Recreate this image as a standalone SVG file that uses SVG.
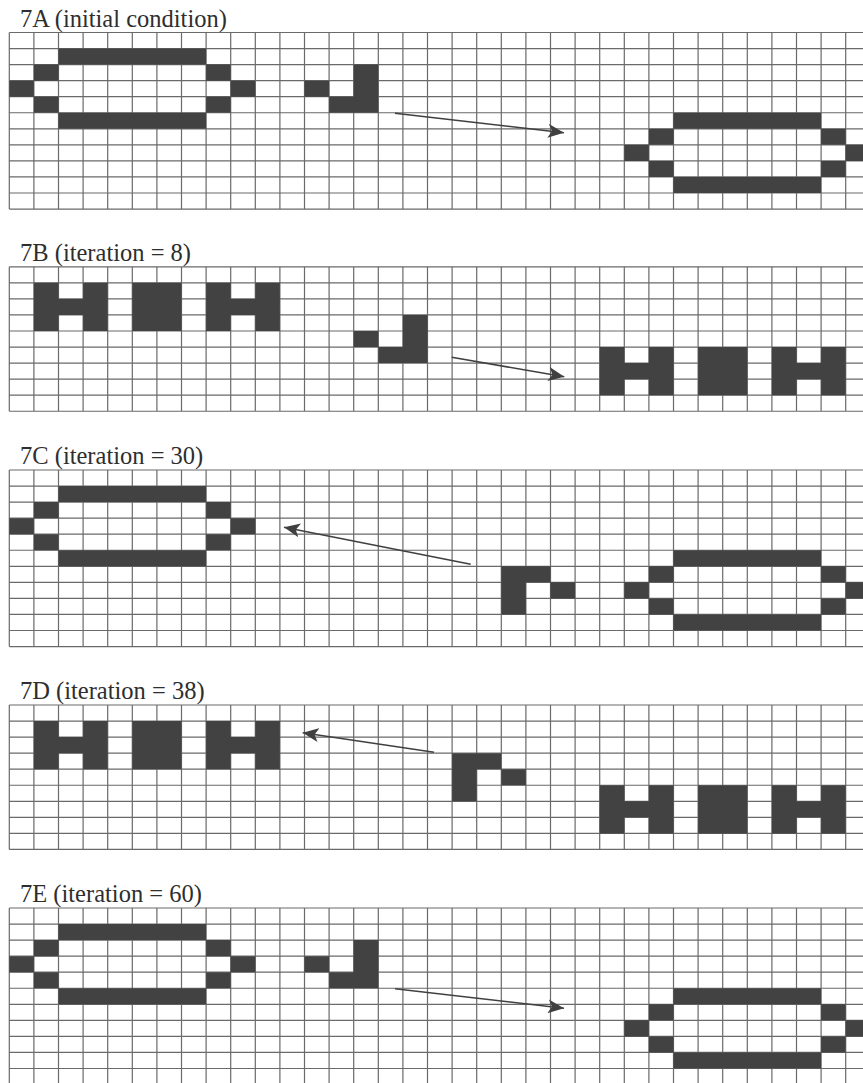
<svg xmlns="http://www.w3.org/2000/svg" xmlns:xlink="http://www.w3.org/1999/xlink" width="863" height="1083" viewBox="0 0 863 1083">
<style>
.lbl{font-family:"Liberation Serif","Times New Roman",serif;font-size:24.5px;fill:#2e2e2e}
.grid{fill:none;stroke:#6a6a6a;stroke-width:1.2}
.cell{fill:#424242}
.arr{fill:none;stroke:#404040;stroke-width:1.6}
</style>
<defs>
<marker id="ah" markerUnits="userSpaceOnUse" markerWidth="17" markerHeight="14" refX="16" refY="7" orient="auto" viewBox="0 0 17 14"><path d="M0 0L16 7L0 14L4 7z" fill="#404040"/></marker>
<path id="grid11" class="grid" d="M9.3 0v176.55m24.6-176.55v176.55m24.6-176.55v176.55m24.6-176.55v176.55m24.6-176.55v176.55m24.6-176.55v176.55m24.6-176.55v176.55m24.6-176.55v176.55m24.6-176.55v176.55m24.6-176.55v176.55m24.6-176.55v176.55m24.6-176.55v176.55m24.6-176.55v176.55m24.6-176.55v176.55m24.6-176.55v176.55m24.6-176.55v176.55m24.6-176.55v176.55m24.6-176.55v176.55m24.6-176.55v176.55m24.6-176.55v176.55m24.6-176.55v176.55m24.6-176.55v176.55m24.6-176.55v176.55m24.6-176.55v176.55m24.6-176.55v176.55m24.6-176.55v176.55m24.6-176.55v176.55m24.6-176.55v176.55m24.6-176.55v176.55m24.6-176.55v176.55m24.6-176.55v176.55m24.6-176.55v176.55m24.6-176.55v176.55m24.6-176.55v176.55m24.6-176.55v176.55M9.3 0H863m-853.7 16.05H863m-853.7 16.05H863m-853.7 16.05H863m-853.7 16.05H863m-853.7 16.05H863m-853.7 16.05H863m-853.7 16.05H863m-853.7 16.05H863m-853.7 16.05H863m-853.7 16.05H863m-853.7 16.05H863"/>
<path id="grid9" class="grid" d="M9.3 0v144.45m24.6-144.45v144.45m24.6-144.45v144.45m24.6-144.45v144.45m24.6-144.45v144.45m24.6-144.45v144.45m24.6-144.45v144.45m24.6-144.45v144.45m24.6-144.45v144.45m24.6-144.45v144.45m24.6-144.45v144.45m24.6-144.45v144.45m24.6-144.45v144.45m24.6-144.45v144.45m24.6-144.45v144.45m24.6-144.45v144.45m24.6-144.45v144.45m24.6-144.45v144.45m24.6-144.45v144.45m24.6-144.45v144.45m24.6-144.45v144.45m24.6-144.45v144.45m24.6-144.45v144.45m24.6-144.45v144.45m24.6-144.45v144.45m24.6-144.45v144.45m24.6-144.45v144.45m24.6-144.45v144.45m24.6-144.45v144.45m24.6-144.45v144.45m24.6-144.45v144.45m24.6-144.45v144.45m24.6-144.45v144.45m24.6-144.45v144.45m24.6-144.45v144.45M9.3 0H863m-853.7 16.05H863m-853.7 16.05H863m-853.7 16.05H863m-853.7 16.05H863m-853.7 16.05H863m-853.7 16.05H863m-853.7 16.05H863m-853.7 16.05H863m-853.7 16.05H863"/>
<path id="osc" class="cell" d="M49.2 0h147.6v16.05H49.2z M24.6 16.05h24.6v16.05H24.6z M196.8 16.05h24.6v16.05h-24.6z M0 32.1h24.6v16.05H0z M221.4 32.1h24.6v16.05h-24.6z M24.6 48.15h24.6v16.05H24.6z M196.8 48.15h24.6v16.05h-24.6z M49.2 64.2h147.6v16.05H49.2z"/>
<path id="hhh" class="cell" d="M0 0h24.6v16.05h24.6v-16.05h24.6v48.15h-24.6v-16.05h-24.6v16.05h-24.6z M98.4 0h49.2v48.15h-49.2z M172.2 0h24.6v16.05h24.6v-16.05h24.6v48.15h-24.6v-16.05h-24.6v16.05h-24.6z"/>
<path id="gliderR" class="cell" d="M0 16.05h24.6v16.05H0z M49.2 0h24.6v48.15H24.6V32.1h24.6z"/>
<path id="gliderL" class="cell" d="M0 0h49.2v16.05H24.6v32.1H0z M49.2 16.05h24.6v16.05H49.2z"/>
</defs>

<g id="panel-7A">
<text class="lbl" x="20" y="26.8">7A (initial condition)</text>
<use xlink:href="#grid11" href="#grid11" x="0" y="32.5"/>
<g id="A-left-oscillator"><use xlink:href="#osc" href="#osc" x="9.3" y="48.55"/></g>
<g id="A-glider"><use xlink:href="#gliderR" href="#gliderR" x="304.5" y="64.6"/></g>
<g id="A-right-oscillator"><use xlink:href="#osc" href="#osc" x="624.3" y="112.75"/></g>
</g>

<g id="panel-7B">
<text class="lbl" x="20" y="261.2">7B (iteration = 8)</text>
<use xlink:href="#grid9" href="#grid9" x="0" y="266.8"/>
<g id="B-left-oscillator"><use xlink:href="#hhh" href="#hhh" x="33.9" y="282.85"/></g>
<g id="B-glider"><use xlink:href="#gliderR" href="#gliderR" x="353.7" y="314.95"/></g>
<g id="B-right-oscillator"><use xlink:href="#hhh" href="#hhh" x="599.7" y="347.05"/></g>
</g>

<g id="panel-7C">
<text class="lbl" x="20" y="464.3">7C (iteration = 30)</text>
<use xlink:href="#grid11" href="#grid11" x="0" y="470"/>
<g id="C-left-oscillator"><use xlink:href="#osc" href="#osc" x="9.3" y="486.05"/></g>
<g id="C-glider"><use xlink:href="#gliderL" href="#gliderL" x="501.3" y="566.3"/></g>
<g id="C-right-oscillator"><use xlink:href="#osc" href="#osc" x="624.3" y="550.25"/></g>
</g>

<g id="panel-7D">
<text class="lbl" x="20" y="699.3">7D (iteration = 38)</text>
<use xlink:href="#grid9" href="#grid9" x="0" y="705"/>
<g id="D-left-oscillator"><use xlink:href="#hhh" href="#hhh" x="33.9" y="721.05"/></g>
<g id="D-glider"><use xlink:href="#gliderL" href="#gliderL" x="452.1" y="753.15"/></g>
<g id="D-right-oscillator"><use xlink:href="#hhh" href="#hhh" x="599.7" y="785.25"/></g>
</g>

<g id="panel-7E">
<text class="lbl" x="20" y="902.3">7E (iteration = 60)</text>
<use xlink:href="#grid11" href="#grid11" x="0" y="908"/>
<g id="E-left-oscillator"><use xlink:href="#osc" href="#osc" x="9.3" y="924.05"/></g>
<g id="E-glider"><use xlink:href="#gliderR" href="#gliderR" x="304.5" y="940.1"/></g>
<g id="E-right-oscillator"><use xlink:href="#osc" href="#osc" x="624.3" y="988.25"/></g>
</g>

<g id="connectors">
<line class="arr" x1="395" y1="113.3" x2="564" y2="132.7" marker-end="url(#ah)"/>
<line class="arr" x1="451.7" y1="357.3" x2="564.3" y2="376.7" marker-end="url(#ah)"/>
<line class="arr" x1="470.7" y1="564.3" x2="284" y2="527.3" marker-end="url(#ah)"/>
<line class="arr" x1="434" y1="752.3" x2="302.7" y2="732.7" marker-end="url(#ah)"/>
<line class="arr" x1="395" y1="988.8" x2="564" y2="1008.2" marker-end="url(#ah)"/>
</g>
</svg>
